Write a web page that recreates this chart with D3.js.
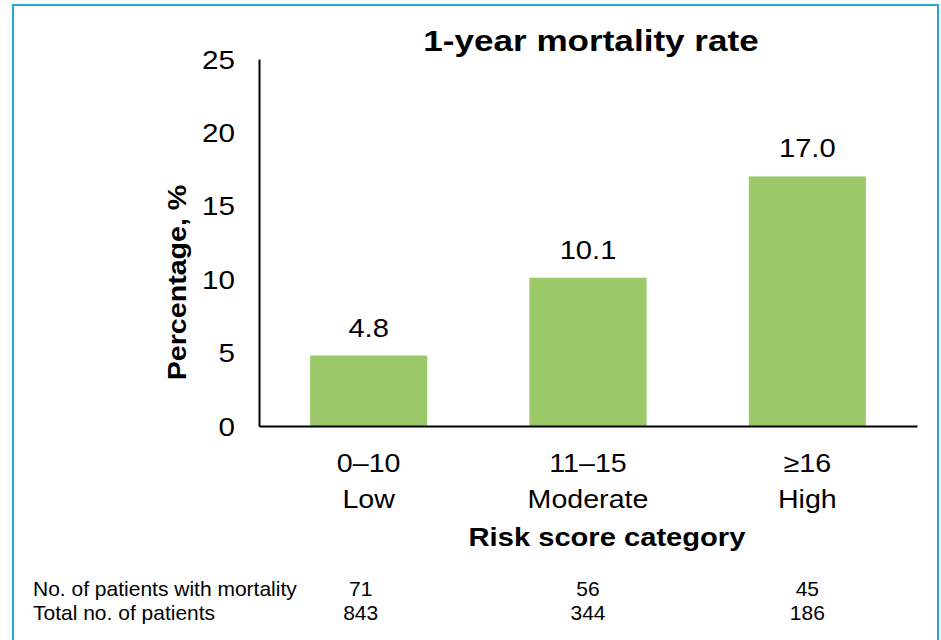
<!DOCTYPE html>
<html>
<head>
<meta charset="utf-8">
<script src="https://cdn.jsdelivr.net/npm/d3@7"></script>
<style>
  html, body { margin: 0; padding: 0; background: #fff; }
  svg { display: block; font-family: Arial, "Liberation Sans", Helvetica, sans-serif; }
</style>
</head>
<body>
<svg id="chart" width="941" height="640"></svg>
<script>
// Risk score categories (two-line labels) and 1-year mortality rates (%)
const categories = ["0–10", "11–15", "≥16"];
const categoryNames = ["Low", "Moderate", "High"];
const mortalityRate = [4.8, 10.1, 17.0];
const yTicks = [0, 5, 10, 15, 20, 25];

// Patient counts shown under the chart
const tableRowLabels = ["No. of patients with mortality", "Total no. of patients"];
const deaths = [71, 56, 45];
const totals = [843, 344, 186];

const svg = d3.select("#chart");
const margin = { left: 259, right: 24, top: 59, bottom: 214 };
const W = 941, H = 640;
const x0 = margin.left, x1 = W - margin.right;
const y0 = H - margin.bottom, y1 = margin.top;

// Widen text glyphs horizontally, as in the slide graphic
function stretch(sel, k) {
  sel.each(function () {
    const w = this.getComputedTextLength();
    this.setAttribute("textLength", w * k);
    this.setAttribute("lengthAdjust", "spacingAndGlyphs");
  });
}

// Frame
svg.append("rect")
  .attr("x", 13).attr("y", 5)
  .attr("width", 925).attr("height", 660)
  .attr("fill", "none")
  .attr("stroke", "#25A9D1")
  .attr("stroke-width", 2);

const x = d3.scaleBand().domain(categories).range([x0, x1]).paddingInner(0.466).paddingOuter(0.233);
const y = d3.scaleLinear().domain([0, 25]).range([y0, y1]);

// Bars
svg.append("g").selectAll("rect")
  .data(mortalityRate)
  .join("rect")
  .attr("x", (d, i) => x(categories[i]))
  .attr("y", d => y(d))
  .attr("width", x.bandwidth())
  .attr("height", d => y(0) - y(d))
  .attr("fill", "#9BC96A");

// Value labels
const vals = svg.append("g").selectAll("text")
  .data(mortalityRate)
  .join("text")
  .attr("x", (d, i) => x(categories[i]) + x.bandwidth() / 2)
  .attr("y", d => y(d) - 19)
  .attr("text-anchor", "middle")
  .attr("font-size", 26)
  .attr("fill", "#000")
  .text(d => d.toFixed(1));
stretch(vals, 1.12);

// Y axis
const yAxis = svg.append("g")
  .attr("transform", `translate(${x0},0)`)
  .call(d3.axisLeft(y).tickValues(yTicks).tickSize(0).tickPadding(24).tickFormat(d3.format("d")));
yAxis.select(".domain").attr("stroke", "#000").attr("stroke-width", 2);
yAxis.selectAll("text")
  .attr("font-size", 26)
  .attr("font-family", "Arial, 'Liberation Sans', sans-serif")
  .attr("fill", "#000")
  .attr("dy", "0.35em");
stretch(yAxis.selectAll("text"), 1.14);

// X axis
const xAxis = svg.append("g")
  .attr("transform", `translate(0,${y0})`)
  .call(d3.axisBottom(x).tickSize(0).tickFormat(""));
xAxis.select(".domain").attr("stroke", "#000").attr("stroke-width", 2);

// Category labels (range + name)
const catG = svg.append("g").attr("font-size", 26).attr("text-anchor", "middle").attr("fill", "#000");
const c1 = catG.selectAll("text.range")
  .data(categories)
  .join("text")
  .attr("class", "range")
  .attr("x", d => x(d) + x.bandwidth() / 2)
  .attr("y", y0 + 46)
  .text(d => d);
const c2 = catG.selectAll("text.name")
  .data(categoryNames)
  .join("text")
  .attr("class", "name")
  .attr("x", (d, i) => x(categories[i]) + x.bandwidth() / 2)
  .attr("y", y0 + 82)
  .text(d => d);
stretch(c1, 1.1);
stretch(c2, 1.1);

// Axis titles
const xt = svg.append("text")
  .attr("x", 607).attr("y", 546)
  .attr("text-anchor", "middle")
  .attr("font-size", 26).attr("font-weight", "bold")
  .text("Risk score category");
stretch(xt, 1.12);

const yt = svg.append("text")
  .attr("transform", `translate(186,${(185 + 380) / 2}) rotate(-90)`)
  .attr("text-anchor", "middle")
  .attr("font-size", 26).attr("font-weight", "bold")
  .text("Percentage, %");
stretch(yt, 1.1);

// Chart title
const title = svg.append("text")
  .attr("x", 591).attr("y", 51)
  .attr("text-anchor", "middle")
  .attr("font-size", 29).attr("font-weight", "bold")
  .text("1-year mortality rate");
stretch(title, 1.21);

// Patient count table
const rows = [deaths, totals];
const rowY = [596, 620];
const tbl = svg.append("g").attr("font-size", 21).attr("fill", "#000");
tbl.selectAll("text.rowlabel")
  .data(tableRowLabels)
  .join("text")
  .attr("class", "rowlabel")
  .attr("x", 33)
  .attr("y", (d, i) => rowY[i])
  .text(d => d);
rows.forEach((row, r) => {
  tbl.selectAll(`text.cell${r}`)
    .data(row)
    .join("text")
    .attr("class", `cell${r}`)
    .attr("x", (d, i) => x(categories[i]) + x.bandwidth() / 2 - (i === 0 ? 8 : 0))
    .attr("y", rowY[r])
    .attr("text-anchor", "middle")
    .text(d => d);
});
</script>
</body>
</html>
